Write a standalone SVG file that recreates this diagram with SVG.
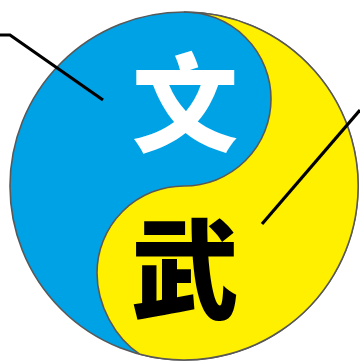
<svg xmlns="http://www.w3.org/2000/svg" width="360" height="362" viewBox="0 0 360 362">
<style>
.edge{stroke:#585858;stroke-width:1.6}
.blue{fill:#00A2E6}
.yellow{fill:#FFF000}
.lead{fill:none;stroke:#000;stroke-width:3.2;stroke-linecap:butt;stroke-linejoin:miter}
.glyph{font-family:"Noto Sans CJK SC","Noto Sans CJK JP",sans-serif;font-weight:900;text-anchor:middle}
</style>
<rect width="360" height="362" fill="#fff"/>
<g id="wen">
<circle cx="184" cy="186" r="174" class="edge blue"/>
</g>
<g id="wu">
<path d="M184,12 A174,174 0 1 1 140,354.3 C115,338 97,305 97,273 A87,87 0 0 1 184,186 A87,87 0 0 0 184,12 Z" class="edge yellow"/>
</g>
<g id="labels">
<text class="glyph" x="185" y="143" font-size="106" fill="#fff">文</text>
<text class="glyph" x="185" y="310" font-size="108" fill="#000">武</text>
</g>
<g id="connectors">
<polyline class="lead" points="0,35 10,35 103,100"/>
<line class="lead" x1="360" y1="110" x2="262" y2="224"/>
</g>
</svg>
